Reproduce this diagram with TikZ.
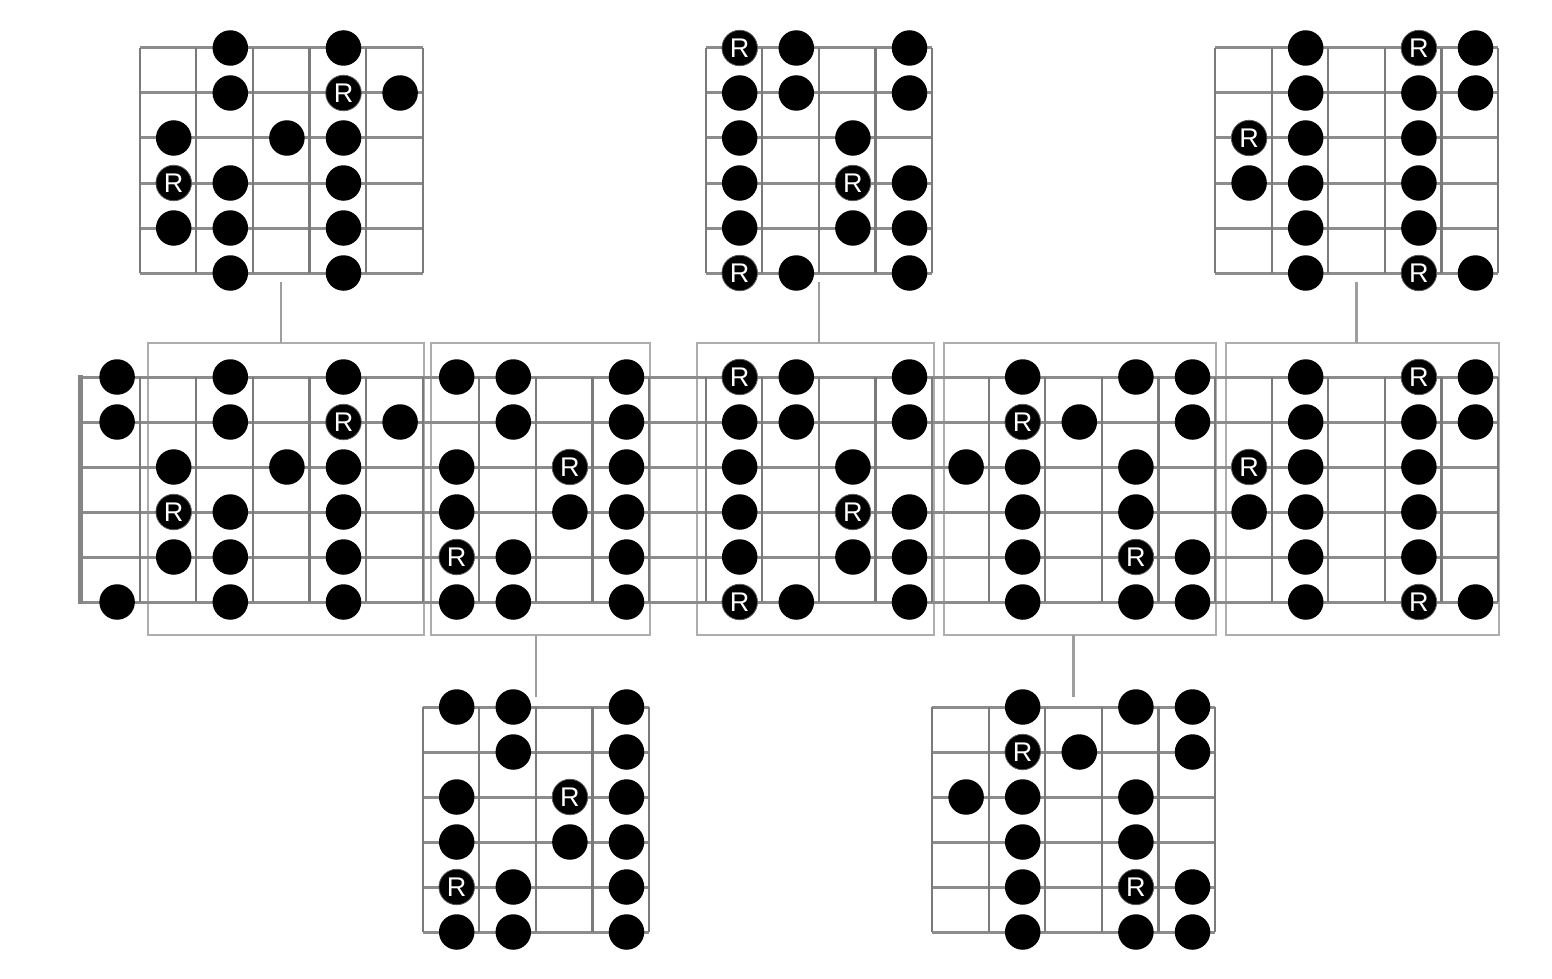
\documentclass[tikz,border=0pt]{standalone}
\usepackage{fontspec}
\setmainfont{Liberation Sans}
\tikzset{
  strg/.style={draw=black!45, line width=3pt},
  frt/.style={draw=black!52, line width=2.2pt},
  nutline/.style={draw=black!48, line width=5pt},
  pbox/.style={draw=black!32, line width=2.4pt, rectangle, inner sep=0pt, outer sep=0pt, anchor=north west},
  conn/.style={draw=black!38, line width=2.2pt},
  fdot/.style={circle, fill=black, minimum size=35.5pt, inner sep=0pt},
  rdot/.style={fdot, draw=black!65, line width=0.8pt, text=white, font=\fontsize{27}{27}\selectfont},
}
\newcommand\fbgrid[3]{% #1 first fret line, #2 last fret line, #3 dy
  \foreach \s in {0,...,5}{
    \draw[strg] ({83+56.6*#1},{377+45*\s+#3}) -- ({83+56.6*#2},{377+45*\s+#3});
  }
  \foreach \f in {#1,...,#2}{
    \draw[frt] ({83+56.6*\f},{377+#3}) -- ({83+56.6*\f},{602+#3});
  }
}
\newcommand\fbdots[4]{% #1 first fret line, #2 last fret line, #3 dy, #4 name
  \foreach \s/\lst/\rts in {
    1/{1,3,5,7,8,10,13,15,17,19,20,22,25}/{12,24},
    2/{1,3,6,8,10,12,13,15,18,20,22,24,25}/{5,17},
    3/{2,4,5,7,10,12,14,16,17,19,22,24}/{9,21},
    4/{3,5,7,9,10,12,15,17,19,21,22,24}/{2,14},
    5/{2,3,5,8,10,12,14,15,17,20,22,24}/{7,19},
    6/{1,3,5,7,8,10,13,15,17,19,20,22,25}/{12,24}}{
    \foreach \k in \lst {
      \ifnum\k>#1\relax\ifnum\k<\numexpr#2+1\relax
        \node[fdot] (#4-\s-\k) at ({60.5+56.6*\k},{377+45*(\s-1)+#3}) {};
      \fi\fi
    }
    \foreach \k in \rts {
      \ifnum\k>#1\relax\ifnum\k<\numexpr#2+1\relax
        \node[rdot] (#4-\s-\k) at ({60.5+56.6*\k},{377+45*(\s-1)+#3}) {R};
      \fi\fi
    }
  }
}
\begin{document}
\begin{tikzpicture}[x={(1pt,0pt)}, y={(0pt,-1pt)}]
\useasboundingbox (0,0) rectangle (1552,979);
% pattern boxes on the main fretboard
\node[pbox, minimum width=276pt, minimum height=292pt] (b1) at (148,343) {};
\node[pbox, minimum width=219pt, minimum height=292pt] (b2) at (431,343) {};
\node[pbox, minimum width=237pt, minimum height=292pt] (b3) at (697,343) {};
\node[pbox, minimum width=272pt, minimum height=292pt] (b4) at (944,343) {};
\node[pbox, minimum width=273pt, minimum height=292pt] (b5) at (1226,343) {};
% main fretboard
\foreach \s in {0,...,5}{
  \draw[strg] (78,{377+45*\s}) -- (1498,{377+45*\s});
}
\foreach \f in {1,...,25}{
  \draw[frt] ({83+56.6*\f},377) -- ({83+56.6*\f},602);
}
\draw[nutline] (80.5,375) -- (80.5,604);
% sub diagrams
\fbgrid{1}{6}{-329}
\fbgrid{11}{15}{-329}
\fbgrid{20}{25}{-329}
\fbgrid{6}{10}{330}
\fbgrid{15}{20}{330}
% connector ends
\coordinate (tl) at ({83+56.6*3.5},282);
\coordinate (tm) at ({83+56.6*13},282);
\coordinate (tr) at ({83+56.6*22.5},282);
\coordinate (bl) at ({83+56.6*8},697);
\coordinate (br) at ({83+56.6*17.5},697);
\draw[conn] (tl) -- (tl |- b1.north);
\draw[conn] (tm) -- (tm |- b3.north);
\draw[conn] (tr) -- (tr |- b5.north);
\draw[conn] (b2.south -| bl) -- (bl);
\draw[conn] (b4.south -| br) -- (br);
% dots
\fbdots{0}{25}{0}{m}
\fbdots{1}{6}{-329}{tl}
\fbdots{11}{15}{-329}{tm}
\fbdots{20}{25}{-329}{tr}
\fbdots{6}{10}{330}{bl}
\fbdots{15}{20}{330}{br}
\end{tikzpicture}
\end{document}
